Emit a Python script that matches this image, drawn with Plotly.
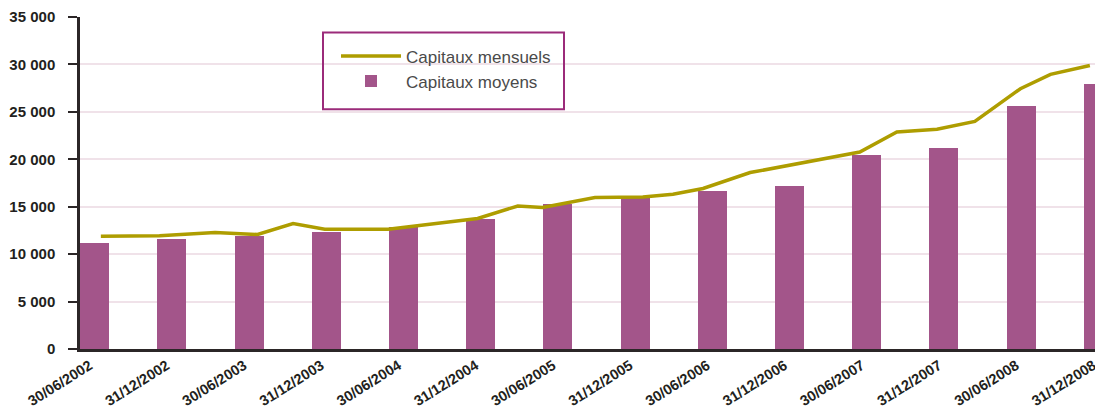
import plotly.graph_objects as go

# Bars: semi-annual average capital
dates = ["30/06/2002", "31/12/2002", "30/06/2003", "31/12/2003", "30/06/2004",
         "31/12/2004", "30/06/2005", "31/12/2005", "30/06/2006", "31/12/2006",
         "30/06/2007", "31/12/2007", "30/06/2008", "31/12/2008"]
capitaux_moyens = [11160, 11580, 11930, 12320, 12840, 13680, 15260, 15930,
                   16630, 17160, 20420, 21160, 25580, 27900]

# Line: monthly capital, position expressed in half-year steps from the first date
line_pos = [0.08, 0.84, 1.56, 2.11, 2.57, 2.98, 3.80, 4.96, 5.48, 5.80, 6.48,
            7.10, 7.49, 7.88, 8.49, 9.91, 10.39, 10.91, 11.40, 11.99, 12.38, 12.89]
capitaux_mensuels = [11890, 11930, 12280, 12070, 13230, 12630, 12630, 13760,
                     15080, 14920, 15970, 16030, 16320, 16920, 18600, 20770,
                     22870, 23160, 24000, 27440, 28950, 29890]

y_ticks = [0, 5000, 10000, 15000, 20000, 25000, 30000, 35000]
y_ticktext = ["0", "5 000", "10 000", "15 000", "20 000", "25 000", "30 000", "35 000"]

bar_x = list(range(len(dates)))

fig = go.Figure()
fig.add_trace(go.Scatter(
    x=line_pos, y=capitaux_mensuels, mode="lines", name="Capitaux mensuels",
    line=dict(color="#ae9d00", width=3.5)))
fig.add_trace(go.Bar(
    x=bar_x, y=capitaux_moyens, name="Capitaux moyens",
    marker=dict(color="#a3558a", line=dict(width=0)), width=0.375))

# page geometry (the page body adds an 8px offset)
OFF = 8
W, H = 1103 - OFF, 410 - OFF
L, R, T, B = 80, 1103, 16.5, 349          # plot area in page pixels


def px_x(p):
    return (p - L) / (R - L)


def px_y(p):
    return (B - p) / (B - T)


fig.add_shape(type="rect", xref="paper", yref="paper",
              x0=px_x(323), x1=px_x(564), y0=px_y(109), y1=px_y(32),
              line=dict(color="#9b2b7a", width=2), fillcolor="rgba(0,0,0,0)",
              layer="above")

fig.update_layout(
    width=W, height=H,
    margin=dict(l=L - OFF, r=0, t=T - OFF, b=H - (B - OFF), autoexpand=False),
    paper_bgcolor="white", plot_bgcolor="white",
    bargap=0,
    showlegend=True,
    legend=dict(x=px_x(336), y=px_y(38), xanchor="left", yanchor="top",
                bgcolor="rgba(0,0,0,0)", borderwidth=0,
                font=dict(family="Liberation Sans, Arial, sans-serif", size=17,
                          color="#4a4a4a"),
                tracegroupgap=0, itemwidth=60),
    xaxis=dict(range=[-0.19, 13.06], tickmode="array", tickvals=bar_x,
               ticktext=dates, tickangle=-32, showgrid=False, zeroline=False,
               showline=True, linecolor="#2b2627", linewidth=2.5, ticks="",
               automargin=False, ticklabeloverflow="allow", ticklabelshift=-5,
               tickfont=dict(family="Liberation Sans, Arial, sans-serif",
                             size=14.5, color="#231f20", weight="bold")),
    yaxis=dict(range=[0, 35000], tickmode="array", tickvals=y_ticks,
               ticktext=y_ticktext, showgrid=True, gridcolor="#f0e2e9",
               gridwidth=2, zeroline=False, showline=True, automargin=False,
               linecolor="#2b2627", linewidth=2.5, ticks="outside",
               ticklen=9, tickcolor="#2b2627", tickwidth=2,
               ticklabelstandoff=10, ticklabeloverflow="allow",
               tickfont=dict(family="Liberation Sans, Arial, sans-serif",
                             size=15, color="#231f20", weight="bold")),
)

fig.write_html("out.html")
